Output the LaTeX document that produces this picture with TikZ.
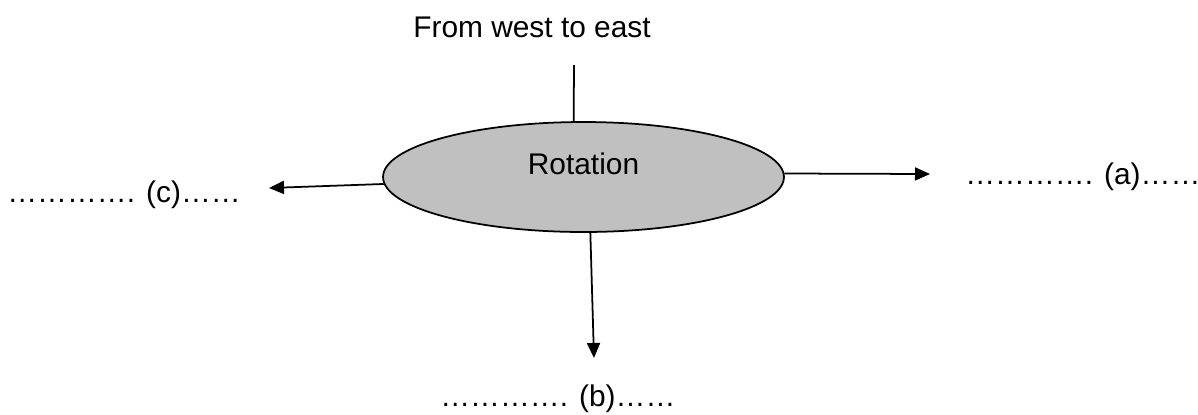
\documentclass[tikz,border=0pt]{standalone}
\usepackage{fontspec}
\setmainfont{Liberation Sans}
\usepackage{xcolor}
\usepackage{tikz}
\usetikzlibrary{shapes.geometric, arrows.meta, positioning}
\definecolor{rotgray}{RGB}{192,192,192}

\begin{document}
\begin{tikzpicture}[
  x = 0.02cm, y = -0.02cm,
  font = \fontsize{17}{20}\selectfont,
  rotnode/.style = {ellipse, draw, fill=rotgray, line width=1pt,
                  minimum width=8.02cm, minimum height=2.2cm, inner sep=0pt,
                  text height=0.7em, text depth=1em},
  lbl/.style     = {inner sep=0pt, anchor=base west},
  ln/.style      = {line width=1pt},
  arr/.style     = {-{Triangle[length=0.3cm, width=0.26cm]}, line width=1pt},
]
\useasboundingbox (0,0) rectangle (1198,414);

%% Centre
\node[rotnode] (rot) at (583.5,177) {Rotation};

%% Texts round it
\node[lbl] (ftext) at (413,37)  {From west to east};
\node[lbl] (alab)  at (965,184) {…………. (a)……};
\node[lbl] (blab)  at (440,406) {…………. (b)……};
\node[lbl] (clab)  at (7,202)   {…………. (c)……};

%% Free ends of the connectors
\coordinate (ftop) at (574,65);
\coordinate (aend) at (930,174);
\coordinate (bend) at (594,358);
\coordinate (cend) at (269,188);

%% Connectors
\draw[ln]  (ftop) -- (rot.100);
\draw[arr] (rot.1)   -- (aend);
\draw[arr] (rot.277) -- (bend);
\draw[arr] (rot.182) -- (cend);

\end{tikzpicture}
\end{document}
